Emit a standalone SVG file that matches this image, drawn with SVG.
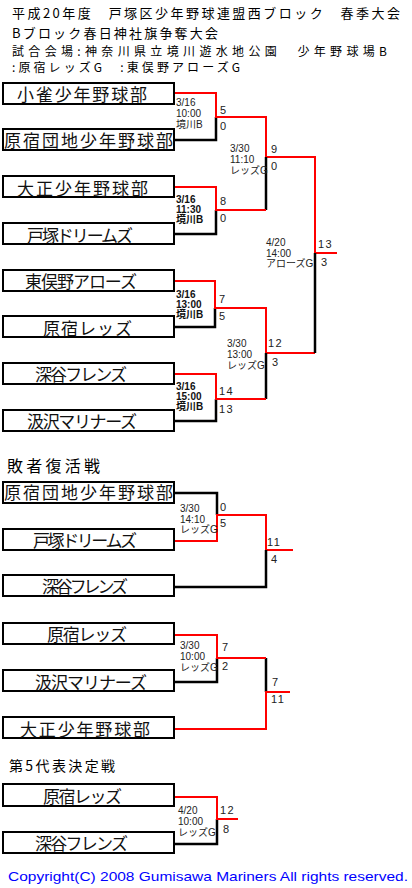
<svg xmlns="http://www.w3.org/2000/svg" width="412" height="888" viewBox="0 0 412 888">
<style>
.title{font-family:"Noto Sans CJK JP","Noto Sans",sans-serif;font-size:13px;fill:#000}
.sub{font-family:"Noto Sans CJK JP","Noto Sans",sans-serif;font-size:12px;fill:#000}
.head{font-family:"Noto Sans CJK JP","Noto Sans",sans-serif;font-size:16px;fill:#000}
.box{fill:#fff;stroke:#000;stroke-width:2}
.name{font-family:"Noto Sans CJK JP","Noto Sans",sans-serif;font-size:17px;fill:#111}
.info{font-family:"Liberation Sans","Noto Sans CJK JP",sans-serif;font-size:10px;fill:#222}
.infob{font-family:"Liberation Sans","Noto Sans CJK JP",sans-serif;font-size:10px;font-weight:bold;fill:#111}
.score{font-family:"Liberation Sans",sans-serif;font-size:11px;fill:#222;letter-spacing:1.5px}
.red{fill:none;stroke:#f00;stroke-width:2}
.blk{fill:none;stroke:#000;stroke-width:2.5}
.copy{font-family:"Liberation Sans",sans-serif;font-size:13px;fill:#0000ff}
</style>
<rect width="412" height="888" fill="#fff"/>
<g id="titles">
<text class="title" x="12" y="18" textLength="388" lengthAdjust="spacing">平成20年度　戸塚区少年野球連盟西ブロック　春季大会</text>
<text class="title" x="12" y="38" textLength="206" lengthAdjust="spacing">Bブロック春日神社旗争奪大会</text>
<text class="sub" x="12" y="55.5" textLength="375" lengthAdjust="spacing">試合会場:神奈川県立境川遊水地公園　少年野球場B</text>
<text class="sub" x="12" y="71.5" textLength="228" lengthAdjust="spacing">:原宿レッズG　:東俣野アローズG</text>
</g>
<g id="connectors">
<path class="blk" d="M175 140H216V117"/>
<path class="red" d="M175 93H216V117H266V157H315V253H337"/>
<path class="blk" d="M175 234H216V210"/>
<path class="blk" d="M266 157V210"/>
<path class="red" d="M175 187H216V210H266"/>
<path class="blk" d="M175 327H215V308"/>
<path class="red" d="M175 281H215V308H266V353H315"/>
<path class="blk" d="M315 253V353"/>
<path class="blk" d="M175 421H216V399"/>
<path class="blk" d="M266 353V399"/>
<path class="red" d="M175 374H216V399H266"/>
<path class="blk" d="M175 493H217V515"/>
<path class="red" d="M175 541H217V515H266V550H293"/>
<path class="blk" d="M175 587H266V550"/>
<path class="blk" d="M175 682H217V658"/>
<path class="blk" d="M266 658V692"/>
<path class="red" d="M175 635H217V658H266"/>
<path class="red" d="M175 729H266V692H290"/>
<path class="blk" d="M175 844H217V819"/>
<path class="red" d="M175 797H217V819H238"/>
</g>
<g id="n-kosuzume"><rect class="box" x="3" y="83" width="171" height="21"/><text class="name" x="17" y="101" textLength="130" lengthAdjust="spacing">小雀少年野球部</text></g>
<g id="n-haradanchi"><rect class="box" x="3" y="129" width="171" height="21"/><text class="name" x="4" y="147" textLength="169" lengthAdjust="spacing">原宿団地少年野球部</text></g>
<g id="n-taisho"><rect class="box" x="3" y="176" width="171" height="21"/><text class="name" x="17" y="195" textLength="131" lengthAdjust="spacing">大正少年野球部</text></g>
<g id="n-totsuka"><rect class="box" x="3" y="223" width="171" height="21"/><text class="name" x="27" y="242" textLength="106" lengthAdjust="spacing">戸塚ドリームズ</text></g>
<g id="n-higashimatano"><rect class="box" x="3" y="270" width="171" height="21"/><text class="name" x="25" y="288" textLength="112" lengthAdjust="spacing">東俣野アローズ</text></g>
<g id="n-harajukureds"><rect class="box" x="3" y="316" width="171" height="21"/><text class="name" x="43" y="335" textLength="89" lengthAdjust="spacing">原宿レッズ</text></g>
<g id="n-fukaya"><rect class="box" x="3" y="363" width="171" height="21"/><text class="name" x="35" y="381" textLength="92" lengthAdjust="spacing">深谷フレンズ</text></g>
<g id="n-gumisawa"><rect class="box" x="3" y="410" width="171" height="21"/><text class="name" x="27" y="428" textLength="110" lengthAdjust="spacing">汲沢マリナーズ</text></g>
<g id="m1-info"><text class="info" x="176" y="106">3/16</text><text class="info" x="176" y="117">10:00</text><text class="info" x="176" y="128">境川B</text><text class="score" x="220" y="114">5</text><text class="score" x="220" y="130">0</text></g>
<g id="m2-info"><text class="infob" x="176" y="203">3/16</text><text class="infob" x="176" y="213">11:30</text><text class="infob" x="176" y="223">境川B</text><text class="score" x="220" y="205">8</text><text class="score" x="220" y="222">0</text></g>
<g id="sf1-info"><text class="info" x="230" y="152">3/30</text><text class="info" x="230" y="163">11:10</text><text class="info" x="230" y="174">レッズG</text><text class="score" x="271" y="153">9</text><text class="score" x="271" y="170">0</text></g>
<g id="f-info"><text class="info" x="266" y="246">4/20</text><text class="info" x="266" y="257">14:00</text><text class="info" x="266" y="267">アローズG</text><text class="score" x="318" y="248">13</text><text class="score" x="321" y="266">3</text></g>
<g id="m3-info"><text class="infob" x="176" y="298">3/16</text><text class="infob" x="176" y="308">13:00</text><text class="infob" x="176" y="318">境川B</text><text class="score" x="219" y="303">7</text><text class="score" x="219" y="320">5</text></g>
<g id="m4-info"><text class="infob" x="176" y="390">3/16</text><text class="infob" x="176" y="400">15:00</text><text class="infob" x="176" y="410">境川B</text><text class="score" x="219" y="395">14</text><text class="score" x="219" y="413">13</text></g>
<g id="sf2-info"><text class="info" x="227" y="347">3/30</text><text class="info" x="227" y="358">13:00</text><text class="info" x="227" y="369">レッズG</text><text class="score" x="268" y="347">12</text><text class="score" x="272" y="366">3</text></g>
<g id="h-haisha"><text class="head" x="7" y="472" textLength="93" lengthAdjust="spacing">敗者復活戦</text></g>
<g id="r-haradanchi"><rect class="box" x="3" y="482" width="171" height="21"/><text class="name" x="4" y="499" textLength="169" lengthAdjust="spacing">原宿団地少年野球部</text></g>
<g id="r-totsuka"><rect class="box" x="3" y="529" width="171" height="21"/><text class="name" x="33" y="547" textLength="104" lengthAdjust="spacing">戸塚ドリームズ</text></g>
<g id="r-fukaya"><rect class="box" x="3" y="575" width="171" height="21"/><text class="name" x="42" y="593" textLength="86" lengthAdjust="spacing">深谷フレンズ</text></g>
<g id="r1-info"><text class="info" x="180" y="512">3/30</text><text class="info" x="180" y="523">14:10</text><text class="info" x="180" y="533">レッズG</text><text class="score" x="220" y="511">0</text><text class="score" x="220" y="527">5</text><text class="score" x="267" y="546">11</text><text class="score" x="271" y="563">4</text></g>
<g id="r-harajukureds"><rect class="box" x="3" y="623" width="171" height="21"/><text class="name" x="47" y="641" textLength="80" lengthAdjust="spacing">原宿レッズ</text></g>
<g id="r-gumisawa"><rect class="box" x="3" y="670" width="171" height="21"/><text class="name" x="35" y="689" textLength="112" lengthAdjust="spacing">汲沢マリナーズ</text></g>
<g id="r-taisho"><rect class="box" x="3" y="717" width="171" height="21"/><text class="name" x="20" y="736" textLength="130" lengthAdjust="spacing">大正少年野球部</text></g>
<g id="r2-info"><text class="info" x="180" y="649">3/30</text><text class="info" x="180" y="660">10:00</text><text class="info" x="180" y="671">レッズG</text><text class="score" x="222" y="651">7</text><text class="score" x="222" y="670">2</text><text class="score" x="272" y="686">7</text><text class="score" x="271" y="703">11</text></g>
<g id="h-daihyo"><text class="title" x="9" y="771" style="font-size:14px" textLength="106" lengthAdjust="spacing">第5代表決定戦</text></g>
<g id="d-harajukureds"><rect class="box" x="3" y="784" width="171" height="22"/><text class="name" x="43" y="803" textLength="79" lengthAdjust="spacing">原宿レッズ</text></g>
<g id="d-fukaya"><rect class="box" x="3" y="832" width="171" height="21"/><text class="name" x="35" y="850" textLength="93" lengthAdjust="spacing">深谷フレンズ</text></g>
<g id="d-info"><text class="info" x="178" y="814">4/20</text><text class="info" x="178" y="825">10:00</text><text class="info" x="178" y="836">レッズG</text><text class="score" x="220" y="814">12</text><text class="score" x="223" y="833">8</text></g>
<text class="copy" x="8" y="881" textLength="400" lengthAdjust="spacingAndGlyphs">Copyright(C) 2008 Gumisawa Mariners All rights reserved.</text>
</svg>
